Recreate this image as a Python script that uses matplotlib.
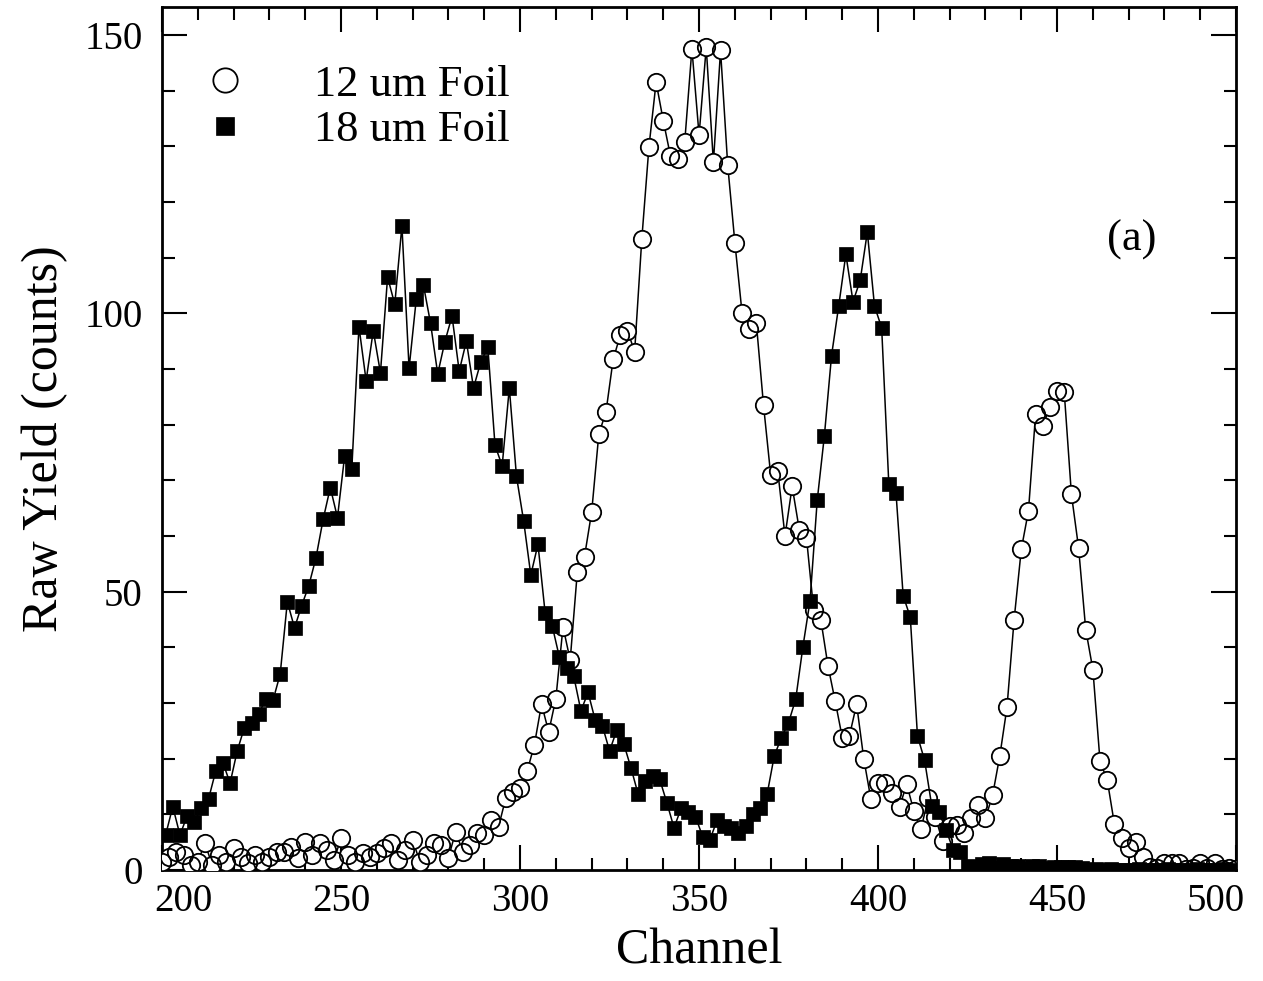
import numpy as np
import matplotlib
matplotlib.use('Agg')
import matplotlib.pyplot as plt
from matplotlib.ticker import MultipleLocator, FuncFormatter

plt.rcParams['font.family'] = ['Liberation Serif', 'DejaVu Serif']

# 12 um foil: every even channel 200..500
chan_12 = np.arange(200, 501, 2)
yield_12 = [
    1.5, 2.4, 3.3, 2.7, 0.9, 1.5, 4.8, 0.9, 2.7, 1.5,
    3.9, 2.4, 1.2, 2.7, 1.5, 2.4, 3.3, 3.3, 4.2, 2.1,
    5.1, 2.7, 4.8, 3.6, 1.8, 5.7, 2.7, 1.5, 3.0, 2.4,
    3.0, 3.9, 4.8, 1.8, 3.6, 5.4, 1.5, 2.7, 4.8, 4.5,
    2.2, 6.9, 3.3, 4.5, 6.6, 6.3, 9.0, 7.8, 12.9, 14.1,
    14.7, 17.8, 22.5, 29.8, 24.8, 30.8, 43.7, 37.7, 53.6, 56.3,
    64.3, 78.3, 82.3, 91.7, 96.1, 96.9, 93.1, 113.3, 129.9, 141.5,
    134.6, 128.3, 127.7, 130.8, 147.5, 132.0, 147.8, 127.1, 147.2, 126.6,
    112.7, 100.1, 97.1, 98.2, 83.5, 71.0, 71.6, 60.0, 68.9, 61.1,
    59.7, 46.7, 45.0, 36.7, 30.4, 23.8, 24.1, 29.8, 20.0, 12.7,
    15.6, 15.7, 13.9, 11.4, 15.4, 10.6, 7.4, 12.9, 9.5, 5.2,
    8.0, 8.1, 6.6, 9.3, 11.7, 9.3, 13.5, 20.5, 29.2, 45.0,
    57.6, 64.5, 81.9, 79.8, 83.1, 86.1, 85.8, 67.5, 57.9, 43.2,
    36.0, 19.5, 16.2, 8.3, 5.7, 3.9, 5.1, 2.3, 0.5, 0.3,
    1.3, 1.2, 1.3, 0.2, 0.3, 1.3, 0.3, 1.3, 0.2, 0.3,
    0.2,
]

# 18 um foil: every odd channel 201..499
chan_18 = np.arange(201, 500, 2)
yield_18 = [
    6.3, 11.4, 6.3, 9.7, 8.6, 11.2, 12.8, 17.8, 19.3, 15.6,
    21.4, 25.6, 26.5, 28.0, 30.8, 30.5, 35.2, 48.2, 43.5, 47.5,
    51.1, 56.1, 63.0, 68.7, 63.3, 74.4, 72.0, 97.6, 87.9, 96.9,
    89.3, 106.5, 101.6, 115.7, 90.1, 102.5, 105.1, 98.2, 89.1, 94.9,
    99.5, 89.6, 95.0, 86.6, 91.2, 93.9, 76.3, 72.6, 86.6, 70.7,
    62.7, 53.0, 58.5, 46.2, 43.8, 38.2, 36.2, 34.8, 28.6, 31.9,
    26.9, 25.9, 21.4, 25.1, 22.6, 18.3, 13.6, 16.0, 16.9, 16.3,
    12.1, 7.6, 11.1, 10.5, 9.6, 6.0, 5.4, 8.9, 7.9, 7.6,
    6.6, 7.9, 10.0, 11.1, 13.6, 20.5, 23.8, 26.5, 30.7, 40.1,
    48.4, 66.4, 78.0, 92.4, 101.3, 110.6, 102.1, 105.9, 114.6, 101.3,
    97.4, 69.3, 67.8, 49.3, 45.4, 24.1, 19.7, 11.5, 10.4, 7.2,
    3.6, 3.3, 0.8, 0.5, 1.0, 1.2, 0.3, 1.0, 0.8, 0.8,
    0.2, 0.8, 0.8, 0.3, 0.5, 0.5, 0.5, 0.5, 0.3, 0.0,
    0.2, 0.0, 0.2, 0.0, 0.0, 0.0, 0.2, 0.0, 0.0, 0.0,
    0.2, 0.0, 0.0, 0.0, 0.2, 0.0, 0.0, 0.0, 0.2, 0.0,
]

x_min, x_max = 200, 500

fig = plt.figure(figsize=(12.63, 9.81), dpi=100)
ax = fig.add_axes([0.1283, 0.1131, 0.8504, 0.8797])

# connecting lines
ax.plot(chan_12, yield_12, color='black', lw=1.1, zorder=2)
ax.plot(chan_18, yield_18, color='black', lw=1.1, zorder=4)

# open circles: white fill hides the line, then outlines on top
ax.plot(chan_12, yield_12, ls='none', marker='o', ms=12.5,
        mfc='white', mec='none', zorder=3)
circ, = ax.plot(chan_12, yield_12, ls='none', marker='o', ms=12.5,
                mfc='none', mec='black', mew=1.3, zorder=3.5,
                label='12 um Foil')
sq, = ax.plot(chan_18, yield_18, ls='none', marker='s', ms=9.5,
              mfc='black', mec='black', mew=0.5, zorder=5,
              label='18 um Foil')

ax.set_xlim(x_min, x_max)
ax.set_ylim(0, 155)

ax.xaxis.set_major_locator(MultipleLocator(50))
ax.xaxis.set_minor_locator(MultipleLocator(10))
ax.yaxis.set_major_locator(MultipleLocator(50))
ax.yaxis.set_minor_locator(MultipleLocator(10))
# end labels are drawn separately, pulled inside the frame
ax.xaxis.set_major_formatter(FuncFormatter(
    lambda v, p: '' if v in (x_min, x_max) else '%d' % v))
ax.tick_params(which='both', direction='in', top=True, right=True,
               width=1.5, labelsize=28)
ax.tick_params(which='major', length=18)
ax.tick_params(which='minor', length=9)
ax.tick_params(axis='y', pad=14)
ax.tick_params(axis='x', pad=9)
for s in ax.spines.values():
    s.set_linewidth(2)

for v, dx in ((x_min, 15), (x_max, -15)):
    ax.annotate('%d' % v, xy=(v, 0), xycoords=('data', 'axes fraction'),
                xytext=(dx, -9), textcoords='offset points',
                ha='center', va='top', fontsize=28)

ax.set_xlabel('Channel', fontsize=36, labelpad=6)
ax.set_ylabel('Raw Yield (counts)', fontsize=36, labelpad=12)

ax.legend(handles=[circ, sq], loc='upper left', bbox_to_anchor=(0.038, 0.933),
          frameon=False, fontsize=32, borderpad=0, borderaxespad=0,
          handlelength=1.0, handletextpad=1.5, labelspacing=0.12,
          markerscale=1.4)

ax.text(0.903, 0.730, '(a)', transform=ax.transAxes, fontsize=32,
        ha='center', va='center')

fig.savefig('out.png', dpi=100)
